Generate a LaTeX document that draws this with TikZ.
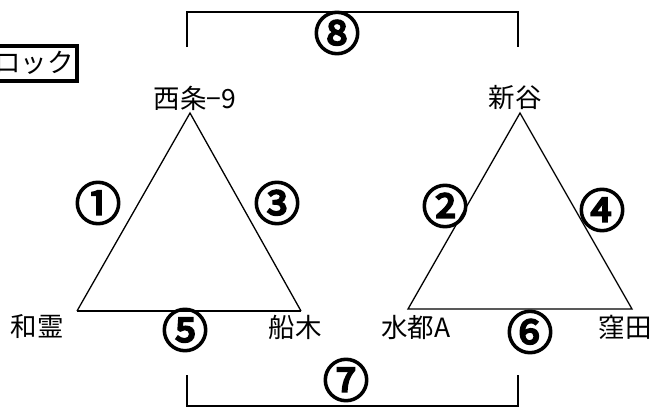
\documentclass[tikz,border=0pt]{standalone}
\usepackage{fontspec}
\newfontfamily\jp{Noto Sans CJK JP}
\newfontfamily\jpb[FakeBold=4.5]{Noto Sans CJK JP}
\begin{document}
\begin{tikzpicture}[x=1pt,y=-1pt,
  lbl/.style={font=\jp\fontsize{26.5}{26.5}\selectfont, inner sep=0pt},
  num/.style={font=\jpb\fontsize{46}{46}\selectfont, inner sep=0pt},
  edge/.style={line width=1.3pt},
  bracket/.style={line width=2.5pt}]
\useasboundingbox (0,0) rectangle (654,408);
\clip (0,0) rectangle (654,408);
% box at top-left
\node[lbl, anchor=center] (blk) at (34,63) {ロック};
\draw[line width=4pt] (-20,46) rectangle (77,81);
% triangle vertices
\coordinate (A1) at (190,113);
\coordinate (B1) at (77,311);
\coordinate (C1) at (301,311);
\coordinate (A2) at (520,113);
\coordinate (B2) at (408,309);
\coordinate (C2) at (632,309);
\draw[edge] (B1) -- (A1) -- (C1);
\draw[line width=2pt] (B1) -- (C1);
\draw[edge] (B2) -- (A2) -- (C2) -- cycle;
% brackets
\coordinate (t1) at (187,47); \coordinate (t2) at (187,12);
\coordinate (t3) at (518,12); \coordinate (t4) at (518,47);
\draw[bracket] (t1) -- (t2) -- (t3) -- (t4);
\coordinate (b1) at (187,375); \coordinate (b2) at (187,406);
\coordinate (b3) at (518,406); \coordinate (b4) at (518,375);
\draw[bracket] (b1) -- (b2) -- (b3) -- (b4);
% station labels
\node[lbl] (saijo) at (195,98) {西条−9};
\node[lbl] (niiya) at (515,98) {新谷};
\node[lbl] (warei) at (37,327) {和霊};
\node[lbl] (funaki) at (295,327) {船木};
\node[lbl] (suito) at (416,327) {水都A};
\node[lbl] (kubota) at (625,327) {窪田};
% circled numbers
\node[num] (n1) at (98,203) {①};
\node[num] (n3) at (277,203) {③};
\node[num] (n2) at (445,206) {②};
\node[num] (n4) at (602,210) {④};
\node[num] (n5) at (185,330) {⑤};
\node[num] (n6) at (530,332) {⑥};
\node[num] (n7) at (346,380) {⑦};
\node[num] (n8) at (337,33) {⑧};
\end{tikzpicture}
\end{document}
